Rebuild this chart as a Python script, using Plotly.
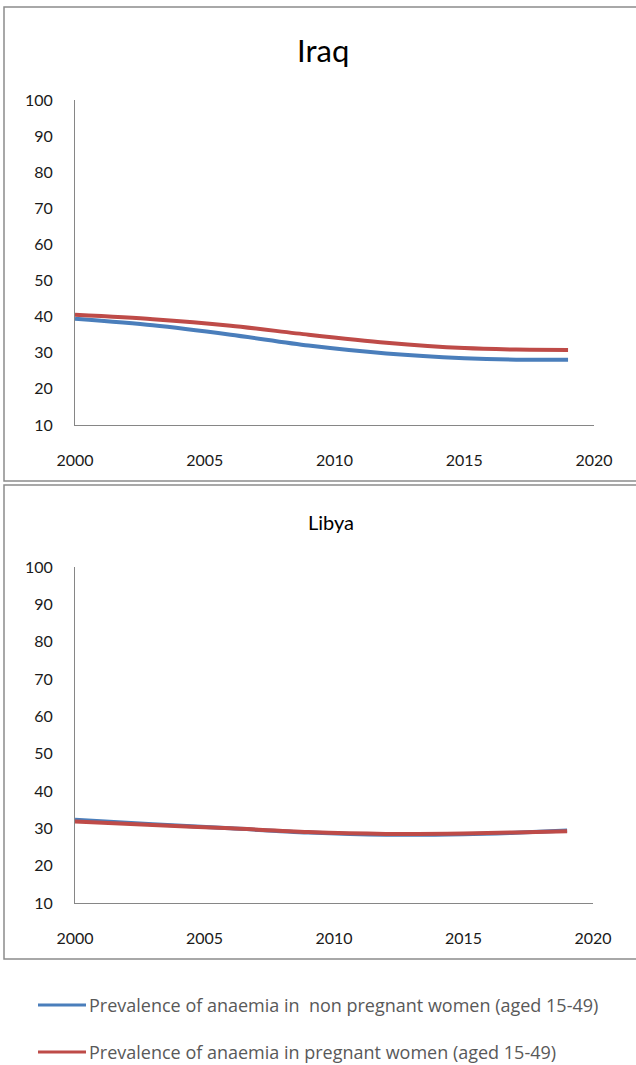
import plotly.graph_objects as go

W, H = 636, 1065

years = [2000, 2003, 2006, 2009, 2012, 2015, 2017, 2019]
iraq_non_pregnant = [39.4, 37.6, 35.0, 32.0, 29.8, 28.5, 28.1, 28.1]
iraq_pregnant = [40.5, 39.3, 37.5, 35.0, 32.8, 31.3, 30.9, 30.8]
libya_non_pregnant = [32.3, 31.1, 30.0, 28.9, 28.3, 28.4, 28.8, 29.4]
libya_pregnant = [31.8, 30.9, 30.0, 29.0, 28.5, 28.6, 28.9, 29.2]

series_names = [
    "Prevalence of anaemia in  non pregnant women (aged 15-49)",
    "Prevalence of anaemia in pregnant women (aged 15-49)",
]
panel_titles = ["Iraq", "Libya"]
x_ticks = [2000, 2005, 2010, 2015, 2020]
y_ticks = [10, 20, 30, 40, 50, 60, 70, 80, 90, 100]

BLUE = "#4A7EBB"
RED = "#BE4B48"
AXIS = "#868686"
BORDER = "#8C8C8C"
FONT = "Lato, 'Open Sans', sans-serif"


def py(p):
    return 1 - p / H


def px(p):
    return p / W


fig = go.Figure()

panels = [
    (iraq_non_pregnant, iraq_pregnant, "x", "y"),
    (libya_non_pregnant, libya_pregnant, "x2", "y2"),
]
for blue_vals, red_vals, xa, ya in panels:
    fig.add_trace(go.Scatter(x=years, y=blue_vals, mode="lines", xaxis=xa, yaxis=ya,
                             line=dict(color=BLUE, width=4, shape="spline", smoothing=0.8),
                             name=series_names[0], showlegend=False))
    fig.add_trace(go.Scatter(x=years, y=red_vals, mode="lines", xaxis=xa, yaxis=ya,
                             line=dict(color=RED, width=4, shape="spline", smoothing=0.8),
                             name=series_names[1], showlegend=False))

xcommon = dict(range=[2000, 2020], tickvals=x_ticks, showgrid=False, zeroline=False,
               showline=True, linecolor=AXIS, linewidth=1, ticks="outside", ticklen=21,
               tickcolor="rgba(0,0,0,0)", tickfont=dict(family=FONT, size=16, color="#1a1a1a"),
               fixedrange=True, automargin=False)
ycommon = dict(range=[10, 100], tickvals=y_ticks, showgrid=False, zeroline=False,
               showline=True, linecolor=AXIS, linewidth=1, ticks="outside", ticklen=18,
               tickcolor="rgba(0,0,0,0)", tickfont=dict(family=FONT, size=16, color="#1a1a1a"),
               fixedrange=True, automargin=False)

fig.update_layout(
    width=W, height=H,
    margin=dict(l=0, r=0, t=0, b=0, autoexpand=False),
    paper_bgcolor="white", plot_bgcolor="white",
    xaxis=dict(domain=[px(75), px(594)], anchor="y", **xcommon),
    yaxis=dict(domain=[py(425), py(100)], anchor="x", **ycommon),
    xaxis2=dict(domain=[px(75), px(593)], anchor="y2", **xcommon),
    yaxis2=dict(domain=[py(903), py(567)], anchor="x2", **ycommon),
    showlegend=False,
)

# Panel borders
fig.add_shape(type="rect", xref="paper", yref="paper", x0=px(4), x1=px(640), y0=py(481), y1=py(7),
              line=dict(color=BORDER, width=1.5))
fig.add_shape(type="rect", xref="paper", yref="paper", x0=px(4), x1=px(640), y0=py(959), y1=py(485),
              line=dict(color=BORDER, width=1.5))

# Titles
fig.add_annotation(text=panel_titles[0], xref="paper", yref="paper", x=px(323), y=py(50),
                   showarrow=False, font=dict(family=FONT, size=31, color="#000000"),
                   xanchor="center", yanchor="middle")
fig.add_annotation(text=panel_titles[1], xref="paper", yref="paper", x=px(331), y=py(522),
                   showarrow=False, font=dict(family=FONT, size=20, color="#000000"),
                   xanchor="center", yanchor="middle")

# Legend (drawn below the panels)
for name, color, yy in [(series_names[0], BLUE, 1005), (series_names[1], RED, 1052)]:
    fig.add_shape(type="line", xref="paper", yref="paper", x0=px(38), x1=px(86), y0=py(yy), y1=py(yy),
                  line=dict(color=color, width=3))
    fig.add_annotation(text=name, xref="paper", yref="paper", x=px(87), y=py(yy),
                       showarrow=False, xanchor="left", yanchor="middle",
                       font=dict(family="'Open Sans', sans-serif", size=18, color="#595959"))

fig.write_html("out.html")
